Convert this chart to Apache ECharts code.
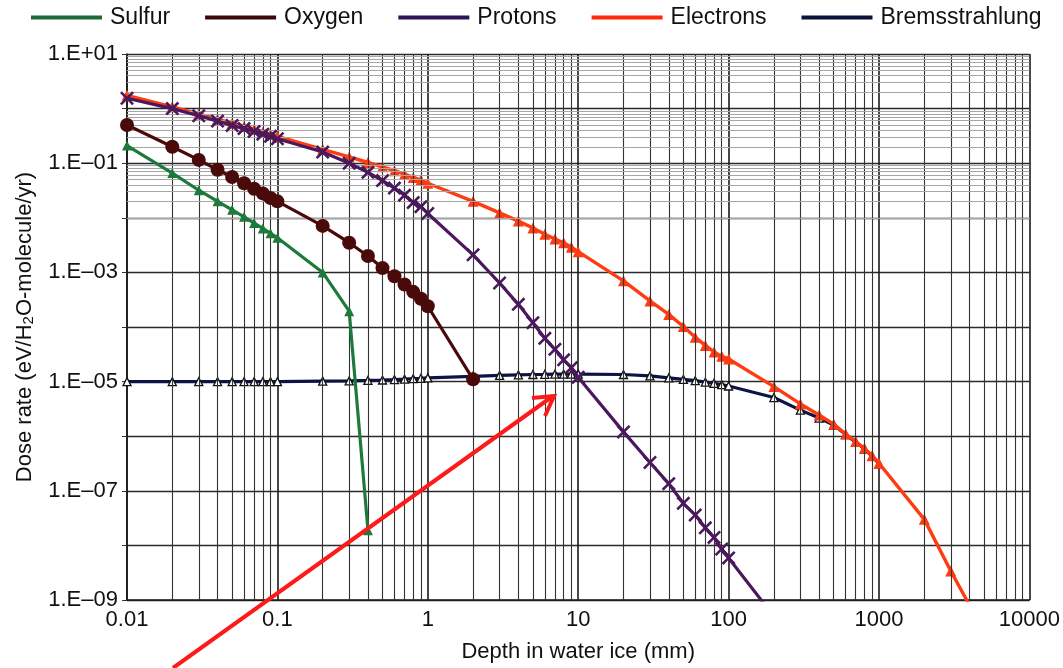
<!DOCTYPE html>
<html><head><meta charset="utf-8">
<script src="https://cdn.jsdelivr.net/npm/echarts@6/dist/echarts.min.js"></script>
<style>html,body{margin:0;padding:0;background:#fff}#c{width:1063px;height:668px}</style>
</head><body><div id="c"></div>
<script>
const seriesNames = ['Sulfur', 'Oxygen', 'Protons', 'Electrons', 'Bremsstrahlung'];
const xTickLabels = ['0.01', '0.1', '1', '10', '100', '1000', '10000'];
const yTickLabels = ['1.E+01', '1.E\u201301', '1.E\u201303', '1.E\u201305', '1.E\u201307', '1.E\u201309'];

const sulfurX = [0.01, 0.02, 0.03, 0.04, 0.05, 0.06, 0.07, 0.08, 0.09, 0.1, 0.2, 0.3, 0.4];
const sulfurY = [0.21, 0.066, 0.032, 0.020, 0.0140, 0.0104, 0.0080, 0.0064, 0.0052, 0.0043, 1.0e-3, 1.95e-4, 1.9e-8];

const oxygenX = [0.01, 0.02, 0.03, 0.04, 0.05, 0.06, 0.07, 0.08, 0.09, 0.1, 0.2, 0.3, 0.4, 0.5, 0.6, 0.7, 0.8, 0.9, 1, 2];
const oxygenY = [0.50, 0.20, 0.115, 0.076, 0.056, 0.043, 0.034, 0.028, 0.023, 0.020, 0.0071, 0.0035, 0.0020, 0.0012, 8.5e-4, 6.0e-4, 4.4e-4, 3.3e-4, 2.4e-4, 1.1e-5];

const protonsX = [0.01, 0.02, 0.03, 0.04, 0.05, 0.06, 0.07, 0.08, 0.09, 0.1, 0.2, 0.3, 0.4, 0.5, 0.6, 0.7, 0.8, 0.9, 1, 2, 3, 4, 5, 6, 7, 8, 9, 10, 20, 30, 40, 50, 60, 70, 80, 90, 100, 200];
const protonsY = [1.55, 1.0, 0.74, 0.59, 0.49, 0.43, 0.38, 0.34, 0.31, 0.28, 0.16, 0.10, 0.068, 0.048, 0.035, 0.026, 0.019, 0.016, 0.012, 0.0021, 6.4e-4, 2.6e-4, 1.2e-4, 6.2e-5, 3.9e-5, 2.5e-5, 1.8e-5, 1.2e-5, 1.2e-6, 3.3e-7, 1.35e-7, 5.9e-8, 3.6e-8, 2.1e-8, 1.4e-8, 8.6e-9, 5.9e-9, 5.0e-10];

const electronsX = [0.01, 0.02, 0.03, 0.04, 0.05, 0.06, 0.07, 0.08, 0.09, 0.1, 0.2, 0.3, 0.4, 0.5, 0.6, 0.7, 0.8, 0.9, 1, 2, 3, 4, 5, 6, 7, 8, 9, 10, 20, 30, 40, 50, 60, 70, 80, 90, 100, 200, 300, 400, 500, 600, 700, 800, 900, 1000, 2000, 3000, 4000];
const electronsY = [1.75, 1.08, 0.80, 0.64, 0.54, 0.47, 0.42, 0.37, 0.34, 0.31, 0.18, 0.13, 0.103, 0.086, 0.073, 0.063, 0.055, 0.049, 0.043, 0.020, 0.0123, 0.0087, 0.0065, 0.0050, 0.0041, 0.0035, 0.0029, 0.0024, 7.0e-4, 3.0e-4, 1.7e-4, 1.02e-4, 6.5e-5, 4.6e-5, 3.5e-5, 2.9e-5, 2.6e-5, 8.1e-6, 3.9e-6, 2.45e-6, 1.66e-6, 1.1e-6, 8.0e-7, 6.0e-7, 4.4e-7, 3.2e-7, 3.0e-8, 3.4e-9, 8.0e-10];

const bremX = [0.01, 0.02, 0.03, 0.04, 0.05, 0.06, 0.07, 0.08, 0.09, 0.1, 0.2, 0.3, 0.4, 0.5, 0.6, 0.7, 0.8, 0.9, 1, 2, 3, 4, 5, 6, 7, 8, 9, 10, 20, 30, 40, 50, 60, 70, 80, 90, 100, 200, 300, 400, 500, 600, 700, 800, 900, 1000];
const bremY = [1.0e-5, 1.0e-5, 1.0e-5, 1.0e-5, 1.0e-5, 1.0e-5, 1.0e-5, 1.0e-5, 1.0e-5, 1.0e-5, 1.02e-5, 1.03e-5, 1.05e-5, 1.07e-5, 1.09e-5, 1.11e-5, 1.13e-5, 1.15e-5, 1.17e-5, 1.25e-5, 1.3e-5, 1.33e-5, 1.35e-5, 1.36e-5, 1.37e-5, 1.37e-5, 1.37e-5, 1.37e-5, 1.35e-5, 1.27e-5, 1.17e-5, 1.1e-5, 1.04e-5, 9.8e-6, 9.3e-6, 8.8e-6, 8.3e-6, 5.1e-6, 3.0e-6, 2.15e-6, 1.6e-6, 1.07e-6, 7.8e-7, 5.8e-7, 4.3e-7, 3.1e-7];

const colors = {
  Sulfur: '#1d7a3b', Oxygen: '#4a0a0a', Protons: '#4b185e', Electrons: '#ff3b12', Bremsstrahlung: '#0e1347'
};
const legendColors = {
  Sulfur: '#1a6b34', Oxygen: '#3a0808', Protons: '#2c1552', Electrons: '#ff2a0a', Bremsstrahlung: '#0b1038'
};

function pairs(xs, ys) { return xs.map((x, i) => [x, ys[i]]); }

// minor gridlines (2..9 within each decade)
const minorX = [], minorY = [];
for (let d = -2; d <= 3; d++) for (let m = 2; m <= 9; m++) minorX.push(m * Math.pow(10, d));
for (let d = -9; d <= 0; d++) for (let m = 2; m <= 9; m++) minorY.push(m * Math.pow(10, d));

const FONT = 'Liberation Sans, Arial, Helvetica, sans-serif';
const chart = echarts.init(document.getElementById('c'), null, { renderer: 'canvas' });

const xCross = 'path://M0,1.3L1.3,0L5,3.7L8.7,0L10,1.3L6.3,5L10,8.7L8.7,10L5,6.3L1.3,10L0,8.7L3.7,5Z';

const option = {
  animation: false,
  backgroundColor: '#fff',
  textStyle: { fontFamily: FONT, color: '#111' },
  legend: {
    left: 31, top: 6, padding: 0,
    itemWidth: 71, itemHeight: 4, itemGap: 35,
    icon: 'rect',
    textStyle: { fontSize: 23, color: '#111', fontFamily: FONT, padding: [0, 0, 0, 3] },
    data: seriesNames.map(n => ({ name: n, itemStyle: { color: legendColors[n], borderWidth: 0 } }))
  },
  grid: { left: 127, right: 29, top: 54, bottom: 66, containLabel: false },
  xAxis: {
    type: 'log', logBase: 10, min: 0.01, max: 10000, interval: 1,
    name: 'Depth in water ice (mm)', nameLocation: 'middle', nameGap: 41,
    nameTextStyle: { fontSize: 22, color: '#111', fontFamily: FONT },
    axisLine: { show: true, lineStyle: { color: '#1a1a1a', width: 1.6 } },
    axisTick: { show: false },
    axisLabel: {
      fontSize: 22, color: '#111', margin: 9, fontFamily: FONT,
      formatter: v => { const e = Math.round(Math.log10(v)); return xTickLabels[e + 2] || ''; }
    },
    splitLine: { show: true, lineStyle: { color: '#1a1a1a', width: 1.6 } }
  },
  yAxis: {
    type: 'log', logBase: 10, min: 1e-9, max: 10, interval: 1,
    name: '{a|Dose rate (eV/H}{b|2}{a|O-molecule/yr)}', nameLocation: 'middle', nameGap: 90,
    nameTextStyle: {
      fontFamily: FONT, color: '#111',
      rich: { a: { fontSize: 22, fontFamily: FONT, color: '#111' }, b: { fontSize: 15, fontFamily: FONT, color: '#111', padding: [9, 0, 0, 0] } }
    },
    axisLine: { show: true, lineStyle: { color: '#1a1a1a', width: 1.6 } },
    axisTick: { show: true, length: 5, lineStyle: { color: '#333' } },
    axisLabel: {
      fontSize: 22, color: '#111', margin: 9, fontFamily: FONT,
      formatter: v => {
        const e = Math.round(Math.log10(v));
        if ((1 - e) % 2 !== 0) return '';
        return yTickLabels[(1 - e) / 2] || '';
      }
    },
    splitLine: { show: true, lineStyle: { color: '#2a2a2a', width: 1.3 } }
  },
  series: [
    {
      name: '_grid', type: 'line', data: [[0.01, 1e-9]], symbol: 'none', silent: true, z: 1,
      lineStyle: { opacity: 0 },
      markLine: {
        silent: true, symbol: ['none', 'none'], label: { show: false }, animation: false,
        emphasis: { disabled: true },
        data: minorX.map(v => ({ xAxis: v, lineStyle: { color: '#333', width: 1.1, type: 'solid' } }))
          .concat(minorY.map(v => ({ yAxis: v, lineStyle: { color: '#a6a6a6', width: 1, type: 'solid' } })))
      }
    },
    {
      name: 'Bremsstrahlung', type: 'line', data: pairs(bremX, bremY), z: 3,
      lineStyle: { color: colors.Bremsstrahlung, width: 3.2 },
      symbol: 'triangle', symbolSize: 8,
      itemStyle: { color: '#ffffff', borderColor: '#111', borderWidth: 1.3 }
    },
    {
      name: 'Electrons', type: 'line', data: pairs(electronsX, electronsY), z: 4,
      lineStyle: { color: colors.Electrons, width: 3.4 },
      symbol: 'triangle', symbolSize: 11,
      itemStyle: { color: colors.Electrons }
    },
    {
      name: 'Protons', type: 'line', data: pairs(protonsX, protonsY), z: 5,
      lineStyle: { color: colors.Protons, width: 3.2 },
      symbol: xCross, symbolSize: 14,
      itemStyle: { color: colors.Protons }
    },
    {
      name: 'Oxygen', type: 'line', data: pairs(oxygenX, oxygenY), z: 6,
      lineStyle: { color: colors.Oxygen, width: 3.2 },
      symbol: 'circle', symbolSize: 14,
      itemStyle: { color: colors.Oxygen }
    },
    {
      name: 'Sulfur', type: 'line', data: pairs(sulfurX, sulfurY), z: 7,
      lineStyle: { color: colors.Sulfur, width: 3.2 },
      symbol: 'triangle', symbolSize: 10,
      itemStyle: { color: colors.Sulfur }
    }
  ],
  graphic: [
    { type: 'line', z: 100, shape: { x1: 173, y1: 668, x2: 553, y2: 396 }, style: { stroke: '#ff1a1a', lineWidth: 4 } },
    { type: 'polyline', z: 100, shape: { points: [[532, 398], [554, 396], [545, 416]] }, style: { stroke: '#ff1a1a', lineWidth: 4, fill: null, lineJoin: 'miter' } }
  ]
};
chart.setOption(option);
</script>
</body></html>
